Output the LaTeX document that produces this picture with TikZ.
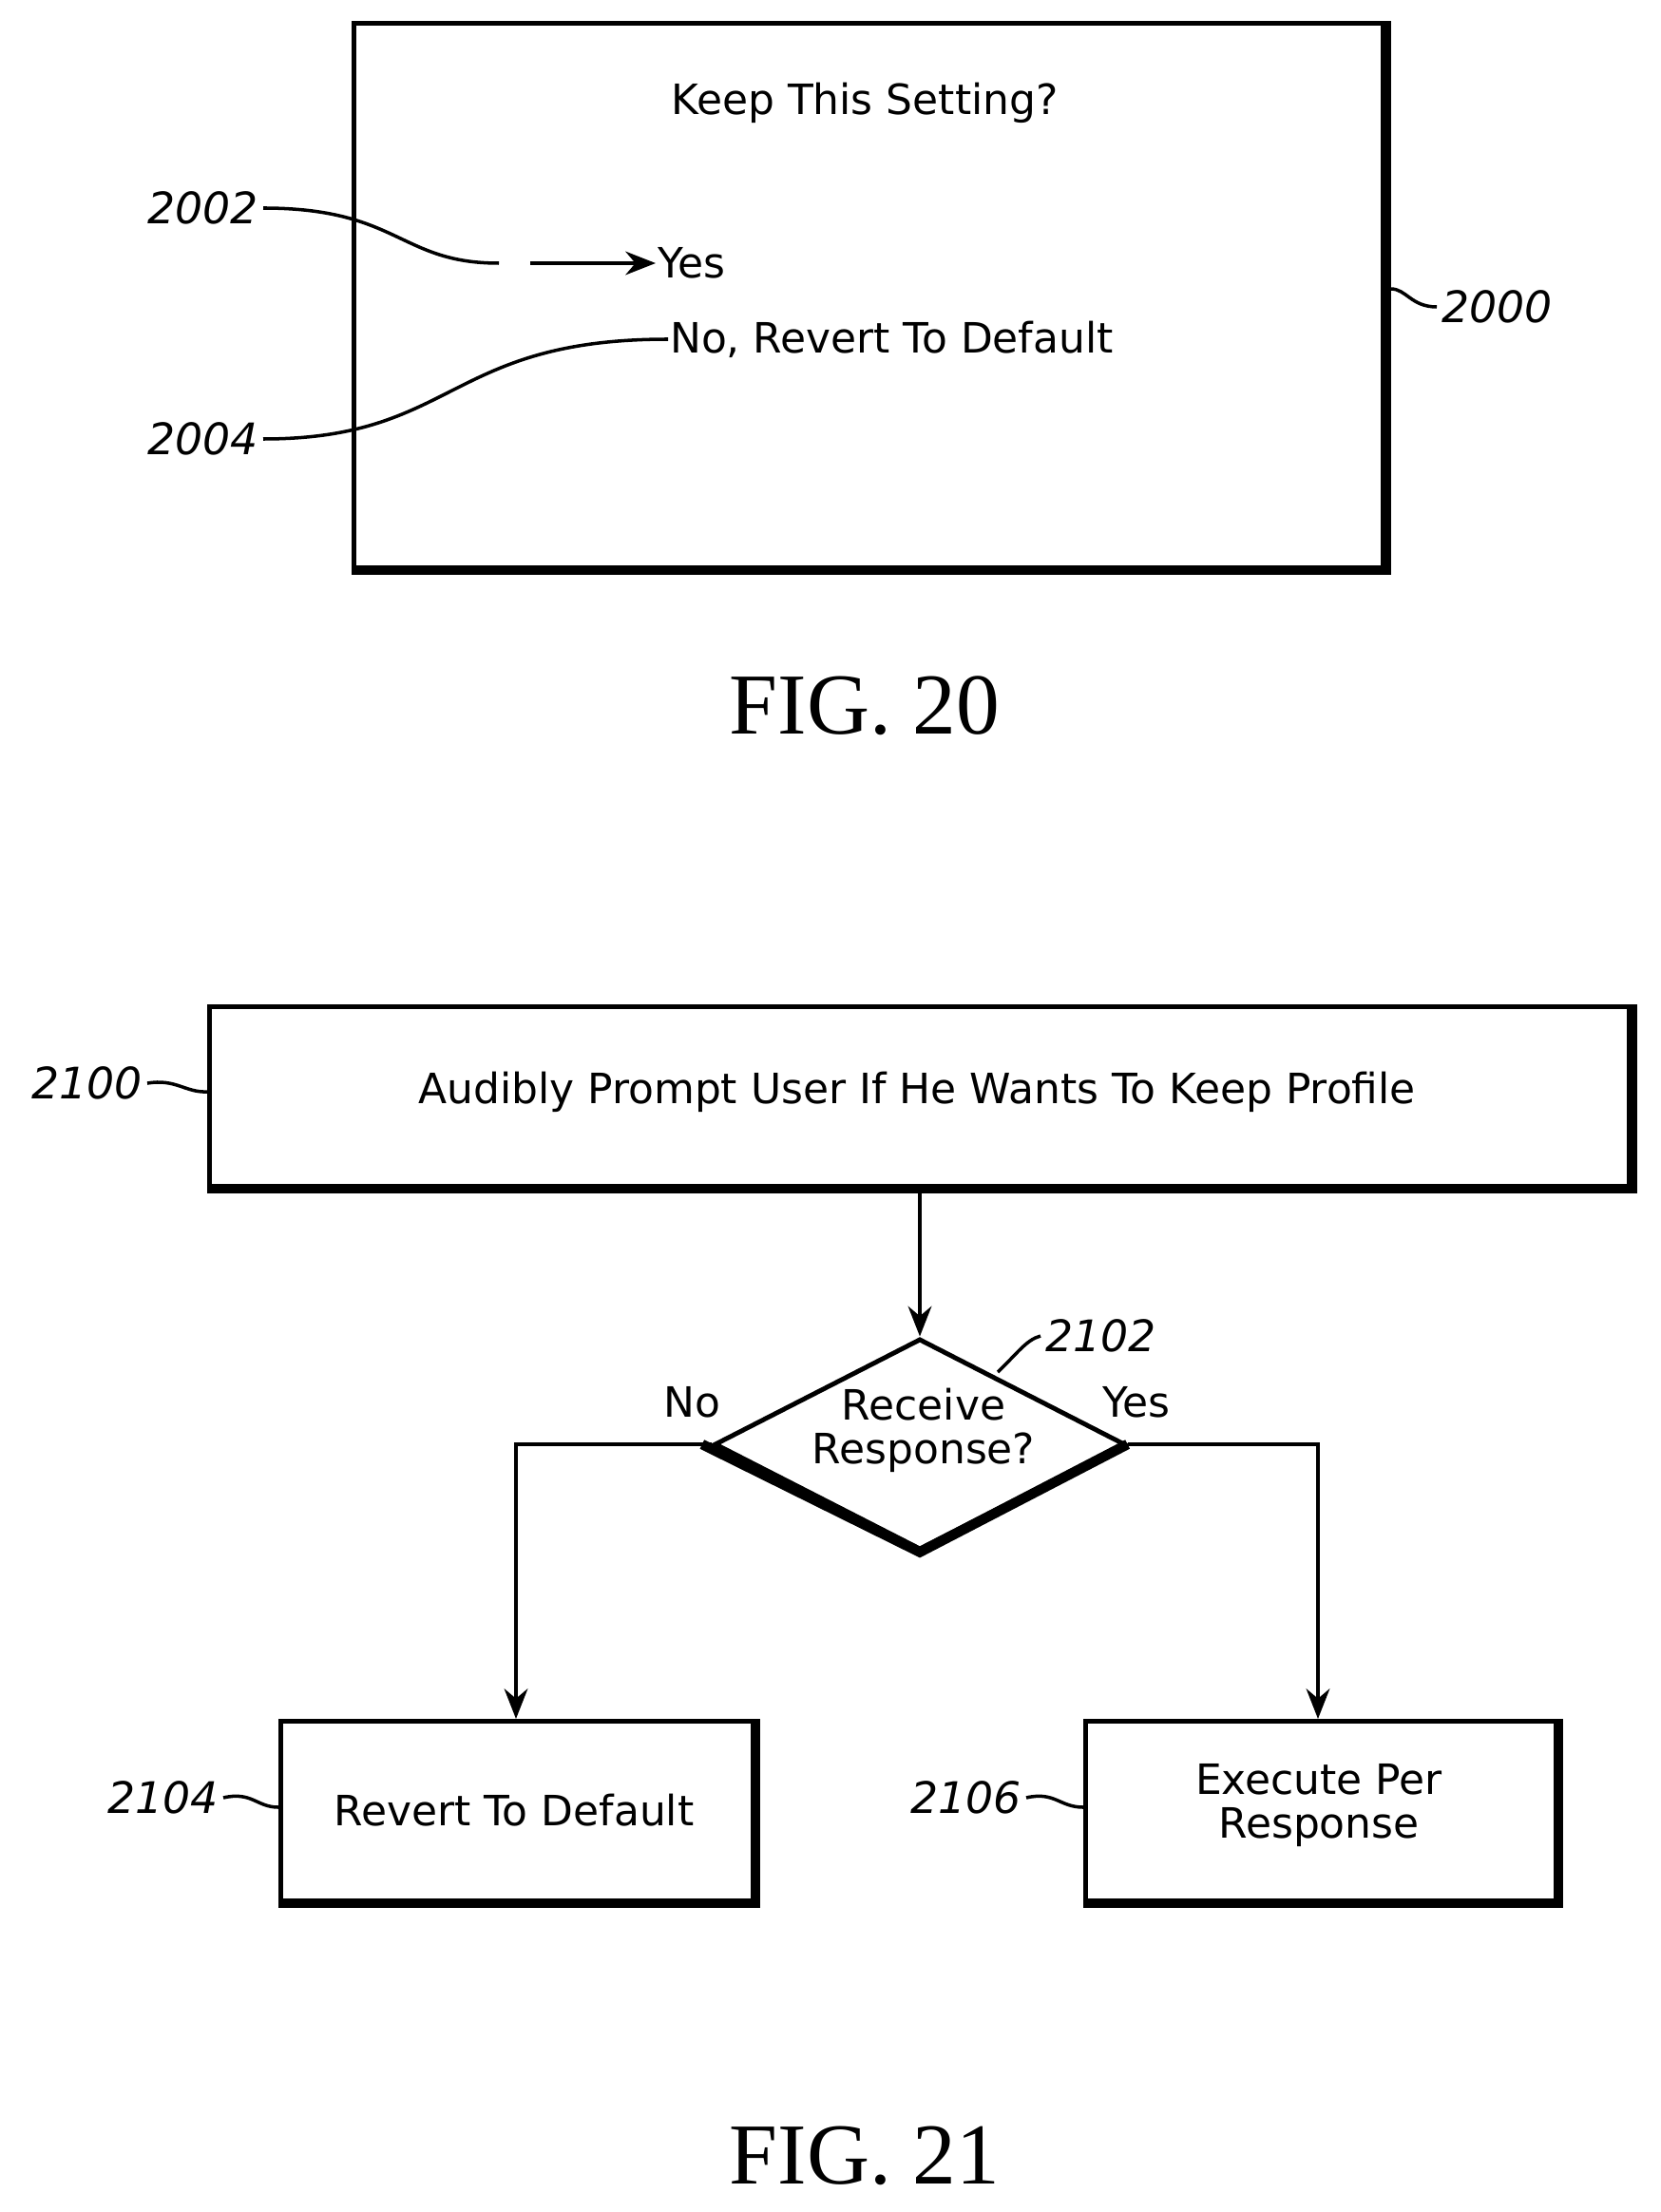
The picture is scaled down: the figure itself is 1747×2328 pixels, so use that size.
\documentclass[tikz,border=0pt]{standalone}
\usepackage{fontspec}
\setmainfont{DejaVu Sans}
\newfontfamily\figfont{Liberation Serif}
\usetikzlibrary{shapes.geometric,arrows.meta}
\begin{document}
\begin{tikzpicture}[x=0.01cm,y=-0.01cm,line width=1.2pt,
  txt/.style={font=\fontsize{12.5}{15}\selectfont,inner sep=0pt,align=center},
  lbl/.style={font=\fontsize{13}{15}\selectfont\itshape,inner sep=1pt},
  fig/.style={font=\figfont\fontsize{26}{28}\selectfont},
  box/.style={draw,rectangle,line width=1.4pt,inner sep=0pt},
  shadow/.style={line width=3pt},
  arr/.style={-{Stealth[length=9pt,width=7pt]},line width=1.2pt}]
\useasboundingbox (0,0) rectangle (1747,2328);
% FIG 20
\node[box,minimum width=10.88cm,minimum height=5.78cm,anchor=north west] (b2000) at (370,22) {};
\draw[shadow] (372,600) -- (1458,600) -- (1458,24);
\node[txt] (t0) at (910,108) {Keep This Setting?};
\node[txt,anchor=west] (yes) at (690,277) {Yes};
\node[txt,anchor=west] (no) at (703,357) {No, Revert To Default};
\node[lbl,anchor=east] (l2002) at (277,219) {2002};
\node[lbl,anchor=east] (l2004) at (277,462) {2004};
\node[lbl,anchor=west] (l2000) at (1512,323) {2000};
\coordinate (e2002) at (525,277);
\coordinate (a2002) at (558,277);
\draw[line width=1pt] (l2002.east) .. controls (420,219) and (420,277) .. (e2002);
\draw[arr] (a2002) -- (yes.west);
\draw[line width=1pt] (l2004.east) .. controls (480,462) and (470,357) .. (no.west);
\draw[line width=1pt] (b2000.east|-0,304) .. controls (1480,304) and (1485,323) .. (l2000.west);
\node[fig] (f20) at (910,743) {FIG. 20};
% FIG 21
\node[box,minimum width=14.99cm,minimum height=1.94cm,anchor=north west] (b2100) at (218,1057) {};
\draw[shadow] (220,1251) -- (1717,1251) -- (1717,1059);
\node[txt] at (965,1149) {Audibly Prompt User If He Wants To Keep Profile};
\node[draw,diamond,aspect=1.95,minimum width=4.32cm,minimum height=2.22cm,inner sep=0pt,line width=1.4pt] (d) at (968,1520) {};
\draw[shadow] (d.east) -- (d.south) -- ([xshift=-3pt]d.west);
\node[txt] at (972,1505) {Receive\\[-2pt]Response?};
\draw[arr] (b2100.south-|d.north) -- (d.north);
\node[box,minimum width=5.02cm,minimum height=1.94cm,anchor=north west] (b2104) at (293,1809) {};
\draw[shadow] (295,2003) -- (795,2003) -- (795,1811);
\node[txt] at (541,1905) {Revert To Default};
\node[box,minimum width=5cm,minimum height=1.94cm,anchor=north west] (b2106) at (1140,1809) {};
\draw[shadow] (1142,2003) -- (1640,2003) -- (1640,1811);
\node[txt] at (1388,1900) {Execute Per\\[-2pt]Response};
\draw[arr] (d.west) -- (543,1520) -- (543,1809);
\draw[arr] (d.east) -- (1387,1520) -- (1387,1809);
\node[txt] at (728,1476) {No};
\node[txt] at (1196,1476) {Yes};
\node[lbl,anchor=east] (l2100) at (155,1140) {2100};
\node[lbl,anchor=west] (l2102) at (1095,1406) {2102};
\node[lbl,anchor=east] (l2104) at (235,1892) {2104};
\node[lbl,anchor=east] (l2106) at (1080,1892) {2106};
\draw[line width=1pt] (l2100.east) .. controls (185,1135) and (195,1150) .. (b2100.west|-0,1149);
\draw[line width=1pt] (1050,1444) .. controls (1070,1425) and (1080,1410) .. (l2102.west);
\draw[line width=1pt] (l2104.east) .. controls (265,1885) and (270,1902) .. (b2104.west|-0,1902);
\draw[line width=1pt] (l2106.east) .. controls (1110,1885) and (1115,1902) .. (b2106.west|-0,1902);
\node[fig] (f21) at (910,2269) {FIG. 21};
\end{tikzpicture}
\end{document}
